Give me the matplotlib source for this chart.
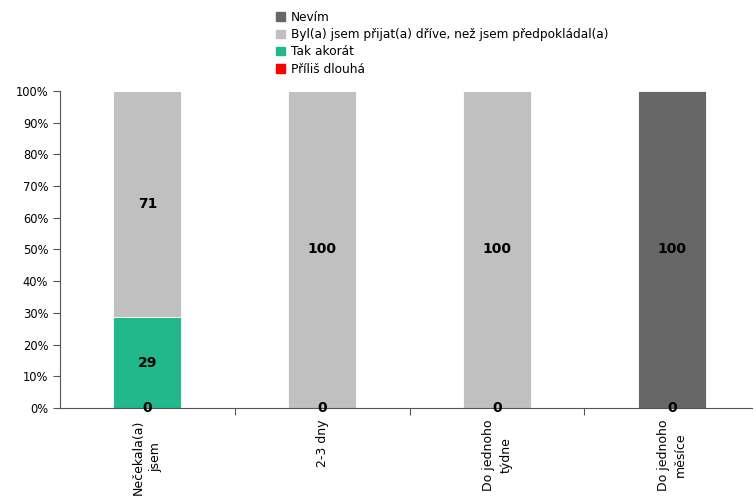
#!/usr/bin/env python3
"""Stacked 100% bar chart: waiting time for acceptance."""

import matplotlib
matplotlib.use("Agg")
import matplotlib.pyplot as plt
from matplotlib.patches import Patch

categories = ["Nečekala(a)\njsem", "2-3 dny", "Do jednoho\ntýdne", "Do jednoho\nměsíce"]

# series from bottom to top
series_names = [
    "Příliš dlouhá",
    "Tak akorát",
    "Byl(a) jsem přijat(a) dříve, než jsem předpokládal(a)",
    "Nevím",
]
prilis_dlouha = [0, 0, 0, 0]
tak_akorat = [28.6, 0, 0, 0]
byl_drive = [71.4, 100, 100, 0]
nevim = [0, 0, 0, 100]

colors = ["#FF0000", "#20B88C", "#C0C0C0", "#666666"]


def main():
    plt.rcParams.update({'font.family': 'DejaVu Sans', 'font.size': 8.3})
    fig = plt.figure(figsize=(7.54, 4.97), dpi=100)
    ax = fig.add_axes([0.0796, 0.179, 0.918, 0.638])

    values = [prilis_dlouha, tak_akorat, byl_drive, nevim]
    x = list(range(len(categories)))
    bottom = [0.0] * len(categories)
    for name, vals, col in zip(series_names, values, colors):
        ax.bar(x, vals, width=0.39, bottom=bottom, color=col, label=name,
               edgecolor="white", linewidth=0.6)
        for i, v in enumerate(vals):
            show = v > 0 or name == "Příliš dlouhá"
            if show:
                ax.text(i, bottom[i] + v / 2, "%d" % round(v),
                        ha="center", va="center", fontsize=10,
                        fontweight="bold", color="black")
        bottom = [b + v for b, v in zip(bottom, vals)]

    ax.set_xlim(-0.5, 3.46)
    ax.set_ylim(0, 100)
    ax.set_yticks(range(0, 101, 10))
    ax.set_yticklabels(["%d%%" % t for t in range(0, 101, 10)])
    ax.set_xticks([0.5, 1.5, 2.5])
    ax.set_xticklabels([])
    ax.tick_params(axis="x", direction="out", length=5, color="#555555")
    ax.tick_params(axis="y", direction="out", length=5, color="#555555")
    for i, c in enumerate(categories):
        ax.text(i, -3.5, c, rotation=90, ha="center", va="top",
                fontsize=9, multialignment="center", linespacing=1.45)
    for s in ["top", "right"]:
        ax.spines[s].set_visible(False)
    for s in ["left", "bottom"]:
        ax.spines[s].set_color("#555555")

    handles = [Patch(color=c, label=n) for n, c in zip(series_names, colors)]
    fig.legend(handles=handles[::-1], loc="upper left",
               bbox_to_anchor=(0.355, 0.995), frameon=False, fontsize=8.7,
               handlelength=0.7, handleheight=0.7, handletextpad=0.5,
               labelspacing=0.35, borderaxespad=0.3)

    fig.savefig("out.png", dpi=100)


if __name__ == '__main__':
    main()
